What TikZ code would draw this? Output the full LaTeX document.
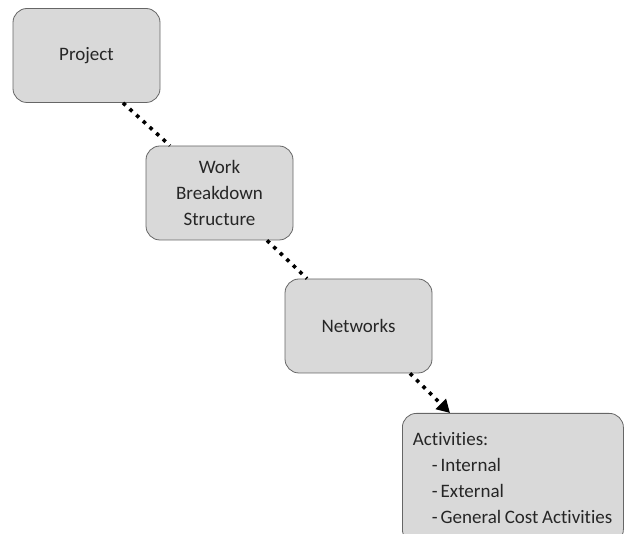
\documentclass[tikz,border=0pt]{standalone}
\usepackage{fontspec}
\setmainfont{Carlito}[Ligatures={NoCommon, NoRequired, NoContextual}]
\usetikzlibrary{calc, arrows.meta}

\tikzset{
  stage/.style={draw=black!60, fill=black!15, line width=0.8pt, rounded corners=14pt,
    minimum width=147pt, minimum height=94pt, align=center, text=black!85,
    font=\fontsize{19}{26}\selectfont},
  link/.style={line width=3.6pt, dash pattern=on 3.6pt off 5.4pt, black}
}

\begin{document}
\begin{tikzpicture}[x=1pt, y=-1pt]
        \useasboundingbox (0,0) rectangle (625,534);
        \clip (0,0) rectangle (625,534);

        % the levels of the structure
        \node[stage] (proj) at (86.5,55.5) {Project};
        \node[stage] (wbs) at (219.5,193) {Work\\Breakdown\\Structure};
        \node[stage] (net) at (358.5,326) {Networks};
        \node[stage, anchor=north west, minimum width=221pt, minimum height=130pt,
              align=left, text width=200pt, inner xsep=10.5pt] (act) at (402,413)
              {Activities:\\
               \mbox{\hspace*{19pt}-\hspace{3pt}Internal}\\
               \mbox{\hspace*{19pt}-\hspace{3pt}External}\\
               \mbox{\hspace*{19pt}-\hspace{3pt}General\hspace{3.5pt}Cost\hspace{3.5pt}Activities}};

        % dotted links, the last one with a head
        \draw[link] ([xshift=36.5pt]proj.south) -- ([xshift=-49.5pt]wbs.north);
        \draw[link] ([xshift=47.5pt]wbs.south) -- ([xshift=-51.5pt]net.north);
        \draw[link, -{Triangle[length=13pt, width=14pt]}] ([xshift=51.5pt]net.south) -- ([xshift=48pt]act.north west);
\end{tikzpicture}
\end{document}
